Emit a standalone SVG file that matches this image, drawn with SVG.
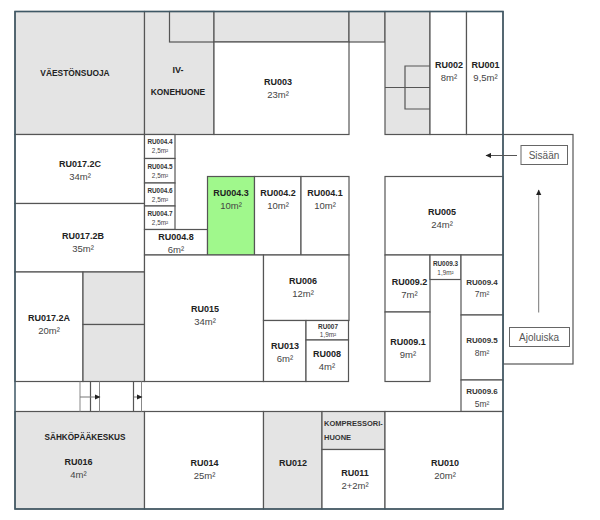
<svg xmlns="http://www.w3.org/2000/svg" width="600" height="520" viewBox="0 0 600 520">
<style>
text{font-family:"Liberation Sans",Arial,sans-serif;text-anchor:middle}
.r{fill:#fff;stroke:#555;stroke-width:1.2}
.g{fill:#e4e4e4;stroke:#555;stroke-width:1.2}
.h{fill:#a0f88c;stroke:#555;stroke-width:1.2}
.n{font-size:9px;font-weight:bold;fill:#222}
.w{font-size:8.4px;font-weight:bold;fill:#222}
.a{font-size:9.5px;fill:#444}
.sn{font-size:6.4px;font-weight:bold;fill:#333}
.sa{font-size:6.4px;fill:#444}
.mn{font-size:8px;font-weight:bold;fill:#333}
.ma{font-size:8.5px;fill:#444}
.k{font-size:7.5px;font-weight:bold;fill:#333;text-anchor:start}
.l{fill:none;stroke:#555;stroke-width:1.2}
.t{fill:none;stroke:#888;stroke-width:1}
.b{fill:#fff;stroke:#666;stroke-width:1}
.lab{font-size:10px;fill:#555}
</style>
<defs>
<marker id="ah" markerWidth="6" markerHeight="6" refX="5" refY="3" orient="auto"><path d="M0,0.4L5.5,3L0,5.6z" fill="#222"/></marker>
</defs>
<rect width="600" height="520" fill="#fff"/>
<g id="ramp"><rect class="r" x="503" y="134.5" width="70" height="229.5"/></g>
<g id="vaestonsuoja"><rect class="g" x="15" y="11.5" width="129.5" height="123"/><text class="w" x="75" y="76">VÄESTÖNSUOJA</text></g>
<g id="iv-konehuone"><rect class="g" x="144.5" y="11.5" width="69.5" height="123"/><text class="n" x="178" y="73">IV-</text><text class="w" x="178" y="95">KONEHUONE</text></g>
<g id="top-band"><rect class="g" x="169.5" y="11.5" width="44.5" height="30.5"/><rect class="g" x="214" y="11.5" width="135" height="30.5"/><rect class="g" x="349" y="11.5" width="36" height="30.5"/></g>
<g id="RU003"><rect class="r" x="214" y="42" width="135" height="92.5"/><text class="n" x="278" y="85">RU003</text><text class="a" x="278" y="98">23m²</text></g>
<g id="gray-core"><rect class="g" x="385" y="11.5" width="45" height="123"/><path class="l" d="M430,66H405V109H430M385,87.5H430"/></g>
<g id="RU002"><rect class="r" x="430" y="11.5" width="36.5" height="123"/><text class="n" x="449" y="67.500">RU002</text><text class="a" x="449" y="81">8m²</text></g>
<g id="RU001"><rect class="r" x="466.500" y="11.5" width="36.500" height="123"/><text class="n" x="485.500" y="67.500">RU001</text><text class="a" x="485.500" y="81">9,5m²</text></g>
<g id="RU017-2C"><rect class="r" x="15" y="134.5" width="129.5" height="69"/><text class="n" x="80" y="166.500">RU017.2C</text><text class="a" x="80" y="180">34m²</text></g>
<g id="RU017-2B"><rect class="r" x="15" y="203.5" width="129.5" height="68.5"/><text class="n" x="83" y="239">RU017.2B</text><text class="a" x="83" y="252">35m²</text></g>
<g id="RU017-2A"><rect class="r" x="15" y="272" width="68" height="109.5"/><text class="n" x="49" y="320.500">RU017.2A</text><text class="a" x="49" y="333.500">20m²</text></g>
<g id="gray-a"><rect class="g" x="83" y="272" width="61.5" height="52.5"/></g>
<g id="gray-b"><rect class="g" x="83" y="324.5" width="61.5" height="57"/></g>
<g id="RU004-4"><rect class="r" x="144.5" y="134.5" width="30.5" height="24"/><text class="sn" x="160" y="144">RU004.4</text><text class="sa" x="160" y="153">2,5m²</text></g>
<g id="RU004-5"><rect class="r" x="144.5" y="158.5" width="30.5" height="24.5"/><text class="sn" x="160" y="169">RU004.5</text><text class="sa" x="160" y="178">2,5m²</text></g>
<g id="RU004-6"><rect class="r" x="144.5" y="183" width="30.5" height="23"/><text class="sn" x="160" y="192.500">RU004.6</text><text class="sa" x="160" y="201.500">2,5m²</text></g>
<g id="RU004-7"><rect class="r" x="144.5" y="206" width="30.5" height="23.500"/><text class="sn" x="160" y="215.500">RU004.7</text><text class="sa" x="160" y="225">2,5m²</text></g>
<g id="RU004-8"><rect class="r" x="144.5" y="229.5" width="63" height="25.5"/><text class="n" x="176" y="240">RU004.8</text><text class="a" x="176" y="253">6m²</text></g>
<g id="RU004-3"><rect class="h" x="207.5" y="176.5" width="47" height="78.500"/><text class="n" x="231" y="196">RU004.3</text><text class="a" x="231" y="209">10m²</text></g>
<g id="RU004-2"><rect class="r" x="254.5" y="176.5" width="46.500" height="78.500"/><text class="n" x="278" y="196">RU004.2</text><text class="a" x="278" y="209">10m²</text></g>
<g id="RU004-1"><rect class="r" x="301" y="176.5" width="48" height="78.500"/><text class="n" x="325" y="196">RU004.1</text><text class="a" x="325" y="209">10m²</text></g>
<g id="RU005"><rect class="r" x="385" y="176.5" width="118" height="78.500"/><text class="n" x="442" y="215">RU005</text><text class="a" x="442" y="228">24m²</text></g>
<g id="RU015"><rect class="r" x="144.5" y="255" width="119" height="126.500"/><text class="n" x="205" y="312">RU015</text><text class="a" x="205" y="325">34m²</text></g>
<g id="RU006"><rect class="r" x="263.5" y="255" width="85.500" height="65.500"/><text class="n" x="303" y="284">RU006</text><text class="a" x="303" y="296.500">12m²</text></g>
<g id="RU013"><rect class="r" x="263.5" y="320.5" width="42.500" height="61"/><text class="n" x="285" y="349">RU013</text><text class="a" x="285" y="362">6m²</text></g>
<g id="RU007"><rect class="r" x="306" y="320.5" width="42.500" height="19.500"/><text class="sn" x="328" y="328.500">RU007</text><text class="sa" x="328" y="337">1,9m²</text></g>
<g id="RU008"><rect class="r" x="306" y="340" width="42.500" height="41.500"/><text class="n" x="327" y="357">RU008</text><text class="a" x="327" y="370">4m²</text></g>
<g id="RU009-2"><rect class="r" x="385" y="255" width="45" height="57"/><text class="n" x="409.500" y="285">RU009.2</text><text class="a" x="409.500" y="298">7m²</text></g>
<g id="RU009-1"><rect class="r" x="385" y="312" width="45" height="69.500"/><text class="n" x="408" y="345">RU009.1</text><text class="a" x="408" y="358">9m²</text></g>
<g id="RU009-3"><rect class="r" x="430" y="255" width="31" height="24.500"/><text class="sn" x="445.500" y="266">RU009.3</text><text class="sa" x="445.500" y="275">1,9m²</text></g>
<g id="RU009-4"><rect class="r" x="461" y="255" width="42" height="60"/><text class="mn" x="482" y="285">RU009.4</text><text class="ma" x="482" y="297">7m²</text></g>
<g id="RU009-5"><rect class="r" x="461" y="315" width="42" height="65"/><text class="mn" x="482" y="343">RU009.5</text><text class="ma" x="482" y="355.500">8m²</text></g>
<g id="RU009-6"><rect class="r" x="461" y="380" width="42" height="31.500"/><text class="mn" x="482" y="394">RU009.6</text><text class="ma" x="482" y="406.500">5m²</text></g>
<g id="RU016"><rect class="g" x="15" y="411.5" width="129.5" height="97.500"/><text class="n" x="85" y="440" textLength="81" lengthAdjust="spacingAndGlyphs">SÄHKÖPÄÄKESKUS</text><text class="n" x="78.500" y="465">RU016</text><text class="a" x="78.500" y="478">4m²</text></g>
<g id="RU014"><rect class="r" x="144.5" y="411.5" width="119" height="97.500"/><text class="n" x="204.500" y="465.500">RU014</text><text class="a" x="204.500" y="478.500">25m²</text></g>
<g id="RU012"><rect class="g" x="263.5" y="411.5" width="58.500" height="97.500"/><text class="n" x="293" y="466">RU012</text></g>
<g id="kompressorihuone"><rect class="g" x="322" y="411.5" width="63" height="38"/><text class="k" x="324" y="426">KOMPRESSORI-</text><text class="k" x="324" y="439.500">HUONE</text></g>
<g id="RU011"><rect class="r" x="322" y="449.5" width="63" height="59.500"/><text class="n" x="355" y="476">RU011</text><text class="a" x="355" y="489">2+2m²</text></g>
<g id="RU010"><rect class="r" x="385" y="411.5" width="118" height="97.500"/><text class="n" x="445" y="465.500">RU010</text><text class="a" x="445" y="478.500">20m²</text></g>
<g id="corridor-doors"><path class="t" d="M80,381.500V411.500M99.500,381.500V411.500M141.500,381.500V411.500"/><path class="l" d="M90.500,381.500V411.500M133.500,381.500V411.500"/></g>
<g id="outer-wall"><path d="M15,11.500H503V509H15Z" fill="none" stroke="#3f5866" stroke-width="1.500"/></g>
<g id="sisaan"><rect class="b" x="521" y="145.5" width="46.500" height="19"/><text class="lab" x="544" y="158.500">Sisään</text></g>
<g id="ajoluiska"><rect class="b" x="509.500" y="327.500" width="60" height="19"/><text class="lab" x="539" y="340.500">Ajoluiska</text></g>
<g id="connectors">
<path d="M517,155.500H486" fill="none" stroke="#555" stroke-width="1" marker-end="url(#ah)"/>
<path d="M538.700,312.500V190" fill="none" stroke="#777" stroke-width="1" marker-end="url(#ah)"/>
<path d="M80,397H100" fill="none" stroke="#777" stroke-width="1" marker-end="url(#ah)"/>
<path d="M134,397H142" fill="none" stroke="#777" stroke-width="1" marker-end="url(#ah)"/>
</g>
</svg>
